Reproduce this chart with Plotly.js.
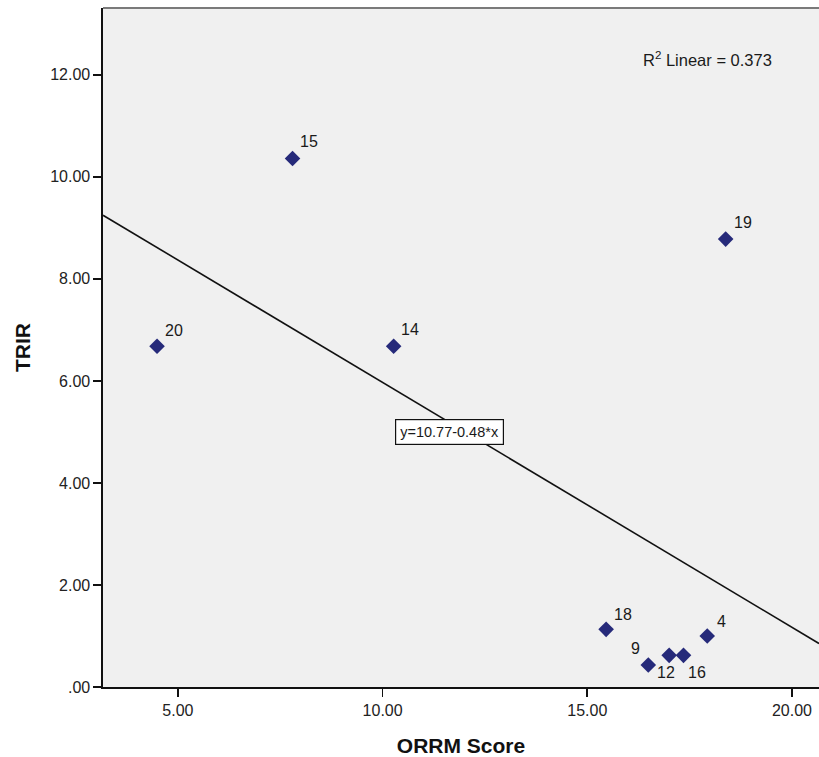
<!DOCTYPE html>
<html>
<head>
<meta charset="utf-8">
<script src="https://cdn.plot.ly/plotly-3.0.1.min.js"></script>
<style>html,body{margin:0;padding:0;background:#fff;}#chart{width:819px;height:757px;}</style>
</head>
<body>
<div id="chart"></div>
<script>
// Data
var pointIds   = ["20", "15", "14", "19", "18", "4", "9", "12", "16"];
var orrmScore  = [4.49, 7.80, 10.27, 18.38, 15.46, 17.93, 16.49, 17.00, 17.35];
var trir       = [6.68, 10.36, 6.68, 8.78, 1.13, 1.00, 0.43, 0.62, 0.62];

// Fit line as printed on the chart
var fitIntercept = 10.77;
var fitSlope = -0.48;
var rSquared = 0.373;

// Axis tick labels
var xTickVals = [5, 10, 15, 20];
var xTickText = ["5.00", "10.00", "15.00", "20.00"];
var yTickVals = [0, 2, 4, 6, 8, 10, 12];
var yTickText = [".00", "2.00", "4.00", "6.00", "8.00", "10.00", "12.00"];

// Label offsets (style): pixels right / up from each point
var labelDx = [17, 16, 16, 17, 17, 14, -13, -3, 13];
var labelDy = [16, 17, 17, 17, 15, 14, 17, -17, -17];

var xRange = [3.17, 20.66];
var yRange = [0, 13.31];

var fitX = [xRange[0], xRange[1]];
var fitY = fitX.map(function (x) { return fitIntercept + fitSlope * x; });

var font = "Liberation Sans, Arial, sans-serif";

var traces = [
  {
    x: fitX, y: fitY, type: "scatter", mode: "lines",
    line: { color: "#111111", width: 1.6 },
    hoverinfo: "skip", showlegend: false, cliponaxis: true
  },
  {
    x: orrmScore, y: trir, type: "scatter", mode: "markers",
    marker: { symbol: "diamond", size: 12, color: "#262a7a", line: { width: 0 } },
    showlegend: false, cliponaxis: false
  }
];

var annotations = pointIds.map(function (id, i) {
  return {
    x: orrmScore[i], y: trir[i], xref: "x", yref: "y",
    text: id, showarrow: false,
    xshift: labelDx[i], yshift: labelDy[i],
    font: { family: font, size: 16, color: "#1a1a1a" }
  };
});

annotations.push({
  x: 11.63, y: 5.0, xref: "x", yref: "y",
  text: "y=" + fitIntercept.toFixed(2) + (fitSlope < 0 ? "-" : "+") + Math.abs(fitSlope).toFixed(2) + "*x",
  showarrow: false,
  bgcolor: "#ffffff", bordercolor: "#111111", borderwidth: 1.2, borderpad: 4,
  font: { family: font, size: 14.5, color: "#1a1a1a" }
});

annotations.push({
  x: 16.32, y: 12.31, xref: "x", yref: "y", xanchor: "left",
  text: "R<sup>2</sup> Linear = " + rSquared.toFixed(3),
  showarrow: false,
  font: { family: font, size: 16.5, color: "#1a1a1a" }
});

var layout = {
  width: 819, height: 757,
  margin: { l: 103, r: 0, t: 8, b: 70 },
  paper_bgcolor: "#ffffff",
  plot_bgcolor: "#f0f0f0",
  showlegend: false,
  font: { family: font, color: "#222222" },
  xaxis: {
    range: xRange, tickvals: xTickVals, ticktext: xTickText,
    showgrid: false, zeroline: false,
    showline: true, linecolor: "#111111", linewidth: 1.6,
    ticks: "outside", ticklen: 8, tickwidth: 1.6, tickcolor: "#111111",
    tickfont: { family: font, size: 16, color: "#222222" },
    title: { text: "ORRM Score", font: { family: font, size: 21, color: "#111111", weight: "bold" }, standoff: 22 },
    automargin: false, fixedrange: true
  },
  yaxis: {
    range: yRange, tickvals: yTickVals, ticktext: yTickText,
    showgrid: false, zeroline: false,
    showline: true, linecolor: "#111111", linewidth: 1.6,
    ticks: "outside", ticklen: 8, tickwidth: 1.6, tickcolor: "#111111",
    tickfont: { family: font, size: 16, color: "#222222" },
    title: { text: "TRIR", font: { family: font, size: 21, color: "#111111", weight: "bold" }, standoff: 14 },
    automargin: false, fixedrange: true
  },
  shapes: [
    { type: "line", xref: "paper", yref: "paper", x0: 0, x1: 1, y0: 1, y1: 1,
      line: { color: "#7a7a7a", width: 2 } }
  ],
  annotations: annotations
};

Plotly.newPlot("chart", traces, layout, { displayModeBar: false, staticPlot: true });
</script>
</body>
</html>
